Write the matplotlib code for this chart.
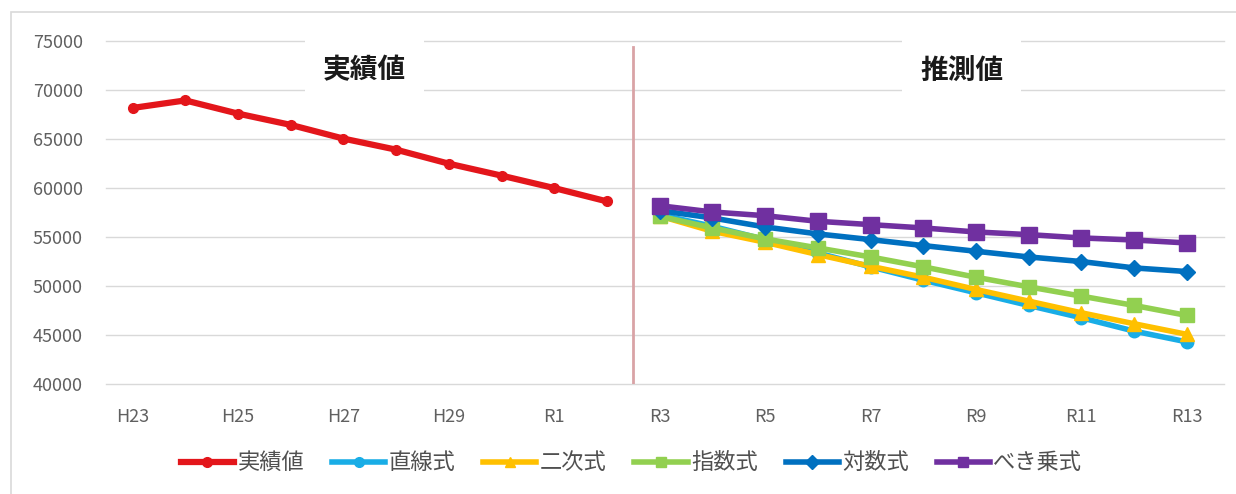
import matplotlib.pyplot as plt
from matplotlib.patches import Rectangle

plt.rcParams['font.family'] = ['Noto Sans CJK JP', 'DejaVu Sans']

# 年度 (H23〜R2 実績, R3〜R13 推測)
years_actual = ['H23', 'H24', 'H25', 'H26', 'H27', 'H28', 'H29', 'H30', 'R1', 'R2']
years_forecast = ['R3', 'R4', 'R5', 'R6', 'R7', 'R8', 'R9', 'R10', 'R11', 'R12', 'R13']

actual = [68180, 68950, 67600, 66450, 65050, 63920, 62490, 61270, 60000, 58640]

linear = [57290, 56100, 54740, 53380, 51960, 50600, 49310, 48020, 46760, 45400, 44300]
quadratic = [57150, 55590, 54470, 53210, 52020, 50900, 49650, 48460, 47270, 46150, 45070]
exponential = [57120, 55930, 54810, 53890, 52970, 51960, 50900, 49920, 48970, 48020, 47000]
logarithmic = [57700, 56950, 56030, 55320, 54740, 54130, 53550, 52970, 52500, 51850, 51480]
power = [58200, 57560, 57180, 56610, 56270, 55930, 55520, 55250, 54910, 54700, 54400]

forecast_series = [
    ('直線式', linear, '#19ADE6', 'o', 9),
    ('二次式', quadratic, '#FFC000', '^', 10),
    ('指数式', exponential, '#92D050', 's', 10),
    ('対数式', logarithmic, '#0070C0', 'D', 8),
    ('べき乗式', power, '#7030A0', 's', 11),
]

years = years_actual + years_forecast
x_act = list(range(len(years_actual)))
x_fc = list(range(len(years_actual), len(years)))

fig = plt.figure(figsize=(12.36, 4.94), dpi=100)
ax = fig.add_axes([0.086, 0.2227, 0.904, 0.694])

# chart frame
fig.patches.append(Rectangle((11 / 1236, -0.1), 1.2, 1 - 12 / 494 + 0.1,
                             transform=fig.transFigure, fill=False,
                             edgecolor='#d9d9d9', linewidth=1.2))

ax.plot(x_act, actual, color='#E3161B', linewidth=4.5, marker='o',
        markersize=7, label='実績値', zorder=3)
for name, vals, col, mk, ms in forecast_series:
    ax.plot(x_fc, vals, color=col, linewidth=4, marker=mk, markersize=ms,
            label=name, zorder=3)

# 実績と推測の境界
ax.plot([len(years_actual) - 0.5] * 2, [40000, 74400], color='#D9A3A6',
        linewidth=2, zorder=2)

for xpos, txt in [(4.4, '実績値'), (15.73, '推測値')]:
    ax.text(xpos, 72000, txt, fontsize=20, fontweight='bold', ha='center',
            va='center', color='#1a1a1a', zorder=4,
            bbox=dict(boxstyle='square,pad=0.65', facecolor='white',
                      edgecolor='none'))

ax.set_xlim(-0.5, len(years) - 0.3)
ax.set_ylim(40000, 75000)
ax.set_yticks(range(40000, 75001, 5000))
ax.set_xticks(range(0, len(years), 2))
ax.set_xticklabels(years[::2])
ax.tick_params(length=0, labelsize=13, labelcolor='#606060')
ax.tick_params(axis='x', pad=17)
ax.tick_params(axis='y', pad=17)
ax.grid(axis='y', color='#d9d9d9', linewidth=1)
for gl in ax.get_ygridlines():
    gl.set_clip_on(False)
ax.set_axisbelow(True)
for s in ax.spines.values():
    s.set_visible(False)

leg = fig.legend(loc='center', bbox_to_anchor=(0.511, 0.063), ncol=6,
                 frameon=False, fontsize=16, handlelength=2.4,
                 handletextpad=0.15, columnspacing=1.25, labelcolor='#505050')
for h in leg.legend_handles:
    h.set_markersize(7)

fig.savefig('out.png', dpi=100)
